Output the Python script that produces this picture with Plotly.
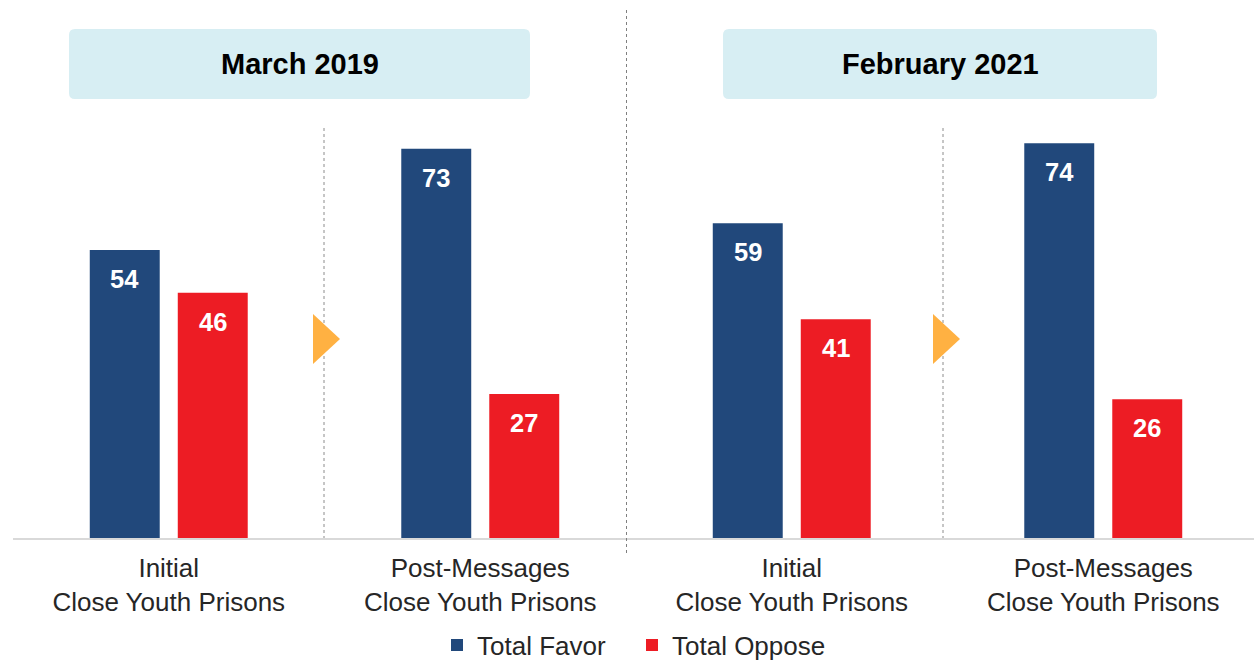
import plotly.graph_objects as go

# ---- data ----
group_labels = ["Initial<br>Close Youth Prisons", "Post-Messages<br>Close Youth Prisons",
                "Initial<br>Close Youth Prisons", "Post-Messages<br>Close Youth Prisons"]
group_pos = [0, 1, 2, 3]
favor = [54, 73, 59, 74]
oppose = [46, 27, 41, 26]
series_names = ["Total Favor", "Total Oppose"]
period_titles = ["March 2019", "February 2021"]

BLUE = "#21487B"
RED = "#ED1C24"
FONT = "Liberation Sans, Arial, sans-serif"

W, H = 1254, 660
ML, MR, MT, MB = 13, 0, 128, 122
PW = W - ML - MR
PH = H - MT - MB
PX_PER_UNIT = 311.5
BARGAP = 0.435
slot = (1 - BARGAP) / 2


def px(x):
    return (x - ML) / PW


def py(y):
    return (H - MB - y) / PH


fig = go.Figure()
fig.add_trace(go.Bar(x=group_pos, y=favor, name=series_names[0], marker_color=BLUE,
                     marker_line_width=0, hoverinfo="skip"))
fig.add_trace(go.Bar(x=group_pos, y=oppose, name=series_names[1], marker_color=RED,
                     marker_line_width=0, hoverinfo="skip"))

annotations = []
for xi, v in zip(group_pos, favor):
    annotations.append(dict(x=xi - slot / 2, y=v, xref="x", yref="y", text=f"<b>{v}</b>",
                            showarrow=False, yanchor="middle", yshift=-29,
                            font=dict(size=25.5, color="white", family=FONT)))
for xi, v in zip(group_pos, oppose):
    annotations.append(dict(x=xi + slot / 2, y=v, xref="x", yref="y", text=f"<b>{v}</b>",
                            showarrow=False, yanchor="middle", yshift=-29,
                            font=dict(size=25.5, color="white", family=FONT)))

shapes = []


def rounded_box(x0, y0, x1, y1, r=6):
    def P(x, y):
        return f"{px(x)},{py(y)}"
    return (f"M {P(x0+r, y0)} L {P(x1-r, y0)} Q {P(x1, y0)} {P(x1, y0+r)} "
            f"L {P(x1, y1-r)} Q {P(x1, y1)} {P(x1-r, y1)} L {P(x0+r, y1)} "
            f"Q {P(x0, y1)} {P(x0, y1-r)} L {P(x0, y0+r)} Q {P(x0, y0)} {P(x0+r, y0)} Z")


boxes = [(69, 29, 530, 99), (723, 29, 1157, 99)]
for (bx0, by0, bx1, by1), title in zip(boxes, period_titles):
    shapes.append(dict(type="path", xref="paper", yref="paper",
                       path=rounded_box(bx0, by0, bx1, by1),
                       line=dict(width=0), fillcolor="#D7EEF3", layer="below"))
    annotations.append(dict(x=px((bx0 + bx1) / 2), y=py((by0 + by1) / 2), xref="paper", yref="paper",
                            text=f"<b>{title}</b>", showarrow=False, xanchor="center", yanchor="middle",
                            font=dict(size=29, color="black", family=FONT)))

# dotted dividers
for xd in (324, 943):
    shapes.append(dict(type="line", xref="paper", yref="paper", x0=px(xd), x1=px(xd),
                       y0=py(128), y1=py(538), line=dict(color="#8C8C8C", width=1, dash="dot")))
shapes.append(dict(type="line", xref="paper", yref="paper", x0=px(626.5), x1=px(626.5),
                   y0=py(10), y1=py(555), line=dict(color="#7F7F7F", width=1, dash="3px,3px")))

# orange arrows
for ax in (313, 933):
    shapes.append(dict(type="path", xref="paper", yref="paper",
                       path=f"M {px(ax)},{py(314)} L {px(ax+27)},{py(339)} L {px(ax)},{py(364)} Z",
                       fillcolor="#FFB142", line=dict(width=0)))

fig.update_layout(
    width=W, height=H,
    margin=dict(l=ML, r=MR, t=MT, b=MB, pad=0, autoexpand=False),
    plot_bgcolor="white", paper_bgcolor="white",
    barmode="group", bargap=BARGAP, bargroupgap=0.205,
    font=dict(family=FONT, size=26, color="#262626"),
    xaxis=dict(range=[-0.5, -0.5 + PW / PX_PER_UNIT], tickvals=group_pos, ticktext=group_labels,
               showgrid=False, zeroline=False, showline=True, linecolor="#D9D9D9", linewidth=2,
               ticks="", ticklabelstandoff=6, automargin=False,
               tickfont=dict(size=26, color="#262626", family=FONT), fixedrange=True),
    yaxis=dict(range=[0, PH / 5.333], showgrid=False, zeroline=False, showticklabels=False,
               showline=False, fixedrange=True, automargin=False),
    legend=dict(orientation="h", x=px(437), xanchor="left", y=py(645), yanchor="middle",
                entrywidth=150, entrywidthmode="pixels",
                font=dict(size=26, color="#262626", family=FONT), itemclick=False,
                traceorder="normal"),
    shapes=shapes, annotations=annotations,
)

fig.write_html("out.html", config={"displayModeBar": False},
               post_script="document.body.style.margin='0px';")
